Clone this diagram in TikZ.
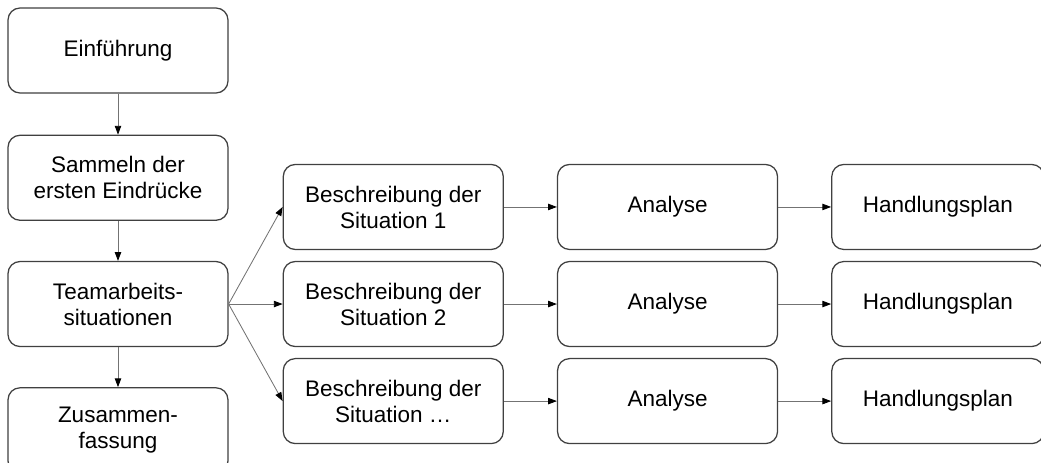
\documentclass[tikz,border=0pt]{standalone}
\usepackage{fontspec}
\setmainfont{Liberation Sans}
\usetikzlibrary{arrows.meta, positioning}
\usepackage{xcolor}

\begin{document}
\begin{tikzpicture}[node distance=1cm, >={Triangle[length=2.2mm, width=1.6mm, color=black]},
  box/.style={rectangle, rounded corners=0.3cm, draw=black!75, line width=0.9pt, fill=white, minimum height=2.125cm, minimum width=#1, align=center, font=\fontsize{16}{18.5}\selectfont},
  box/.default=5.5cm,
  link/.style={->, draw=black!55, line width=0.6pt}]
  \useasboundingbox (0,0) rectangle (26.025,-11.575);
  % left column
  \node[box] (intro) at (2.95,-1.2625) {Einführung};
  \node[box, below=1.025cm of intro] (collect) {Sammeln der\\ersten Eindrücke};
  \node[box, below=of collect] (team) {Teamarbeits-\\situationen};
  \node[box, below=of team] (summary) {Zusammen-\\fassung};
  % situations
  \node[box, right=1.35cm of team] (desc2) {Beschreibung der\\Situation 2};
  \node[box, above=0.27cm of desc2] (desc1) {Beschreibung der\\Situation 1};
  \node[box, below=0.27cm of desc2] (desc3) {Beschreibung der\\Situation \dots};
  \foreach \i in {1,2,3} {
    \node[box, right=1.325cm of desc\i] (analysis\i) {Analyse};
    \node[box=5.3cm, right=1.325cm of analysis\i] (plan\i) {Handlungsplan};
    \draw[link] (desc\i) -- (analysis\i);
    \draw[link] (analysis\i) -- (plan\i);
    \draw[link] (team.east) -- (desc\i.west);
  }
  \draw[link] (intro) -- (collect);
  \draw[link] (collect) -- (team);
  \draw[link] (team) -- (summary);
\end{tikzpicture}
\end{document}
